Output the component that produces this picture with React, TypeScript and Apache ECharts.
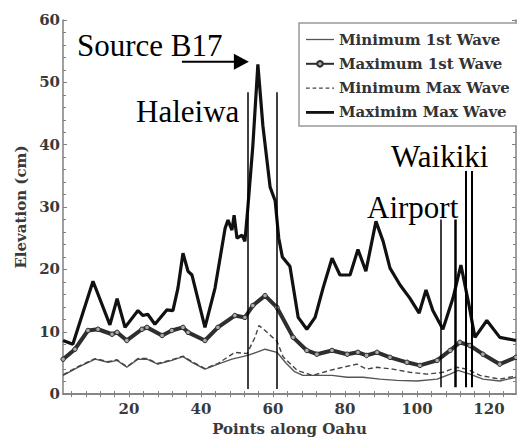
import React, { useEffect, useRef } from 'react';
import * as echarts from 'echarts';

const min1X = [1.7, 5.8, 10.6, 14.2, 16.7, 19.4, 22.5, 25, 28, 31.9, 35, 37.5, 41.1, 44.7, 48.6, 53, 57.8, 61.1, 63.6, 66, 68.3, 73, 76.4, 80.6, 85, 89.7, 94.4, 100, 105.6, 109.2, 111.4, 114.7, 118.3, 123, 127.5];
const min1Y = [3, 4.3, 5.6, 5.1, 5.4, 4.3, 5.6, 5.6, 4.8, 5.4, 6, 5.1, 4, 4.8, 5.6, 6.2, 7.2, 6.7, 5.0, 3.6, 3, 3, 3, 2.7, 2.7, 2.4, 2.2, 2.1, 2.4, 3.2, 3.8, 3.2, 2.4, 2.1, 2.7];

const max1X = [1.7, 5, 8.6, 11.4, 15.3, 16.7, 19.4, 23.6, 25, 29.2, 31.9, 35, 36.4, 41.1, 44.7, 49.4, 52.2, 54.4, 57.8, 61.1, 65.6, 69.4, 72.2, 76.4, 80.6, 83.6, 86, 88.9, 92.5, 97.2, 100.8, 105.6, 109.2, 111.9, 114.7, 118.3, 123, 127.5];
const max1Y = [5.6, 7.2, 10.2, 10.4, 9.6, 9.9, 8.6, 10.4, 10.7, 9.4, 10.2, 10.7, 9.9, 8.6, 10.7, 12.6, 12.3, 14.2, 15.8, 13.9, 9.1, 7, 6.4, 7, 6.4, 6.7, 6.2, 6.7, 5.9, 5.1, 4.6, 5.4, 7, 8.3, 7.8, 6.4, 4.8, 5.9];

const minMaxX = [1.7, 5.8, 10.6, 14.2, 16.7, 19.4, 22.5, 25, 28, 31.9, 35, 37.5, 41.1, 44.7, 49.4, 52.8, 55, 56.1, 57.8, 59.5, 61.1, 62.8, 66.7, 71, 75.8, 79.4, 83.3, 86, 88.9, 93.3, 98, 102.8, 107.2, 111, 113.9, 117.5, 123, 127.5];
const minMaxY = [3.1, 4.4, 5.7, 5.2, 5.5, 4.4, 5.7, 5.7, 4.9, 5.5, 6.1, 5.2, 4.1, 4.9, 6.7, 6.5, 9.1, 11, 10.2, 9.3, 8.5, 6.0, 3.8, 3, 3.8, 4.3, 4.8, 4, 4.3, 4, 3.5, 3.2, 3.5, 4.3, 4, 3, 2.4, 2.9];

const maxMaxX = [1.7, 4.4, 10, 14.7, 16.7, 18.9, 22.5, 23.9, 25.2, 27.2, 30.5, 32.2, 33.6, 35, 36.4, 37.5, 41.1, 43.9, 46.7, 47.5, 48.6, 49.2, 50, 51.4, 52.2, 53, 54.4, 55.8, 57.2, 59.2, 60.6, 61.6, 62.6, 64.7, 67, 69.4, 71.7, 73.9, 76.4, 78.6, 81.4, 83.6, 85.8, 88.6, 90.6, 92.5, 95.3, 98, 100.6, 102.5, 104.4, 107.2, 110, 112.2, 114.2, 116.1, 119.4, 123, 127.5];
const maxMaxY = [8.6, 8.0, 18.1, 11.1, 15.3, 10.7, 13.4, 12.6, 12.8, 11.2, 13.5, 13.4, 17, 22.6, 19.7, 19.1, 10.7, 17, 26.6, 27.9, 26.3, 28.7, 25, 25.5, 24.5, 29.8, 39.8, 52.9, 43, 33.2, 31, 25, 22, 20.5, 12.3, 10.4, 12.3, 17, 21.8, 19.1, 19.1, 23.2, 19.7, 27.7, 24.5, 20.2, 17.5, 15.4, 13, 16.7, 13.4, 10.4, 15.4, 20.7, 15, 9.1, 11.8, 9.1, 8.6];

const seriesNames = ['Minimum 1st Wave', 'Maximum 1st Wave', 'Minimum Max Wave', 'Maximim Max Wave'];
const xLabelValues = [20, 40, 60, 80, 100, 120];
const xTickValues = [4, 8, 12, 16, 20, 24, 28, 32, 36, 40, 44, 48, 52, 56, 60, 64, 68, 72, 76, 80, 84, 88, 92, 96, 100, 104, 108, 112, 116, 120, 124];

// site marker lines: x position, bottom, top (cm), stroke width
const siteX = [53, 61, 106.7, 110.6, 113.6, 115.3];
const siteBottom = [0.8, 0.8, 1.1, 1.1, 1.1, 1.1];
const siteTop = [48.4, 48.4, 28, 28, 35.8, 35.8];
const siteWidth = [1.5, 1.5, 1.5, 2.5, 2, 2];

// arrow pointing to source peak (data coords)
const arrowStart = [34.7, 53.3];
const arrowTip = [53.3, 53.3];

const zip = (xs: number[], ys: number[]) => xs.map((x, i) => [x, ys[i]]);

const AXIS_FONT = 'DejaVu Serif';
const ANNO_FONT = 'Liberation Serif';

const solidIcon = (h: number) => `path://M0,0H30V${h}H0Z`;
const dashedIcon = 'path://M0,0h4v1.4h-4z M7,0h4v1.4h-4z M14,0h4v1.4h-4z M21,0h4v1.4h-4z M28,0h2v1.4h-2z';

export default function App() {
  const ref = useRef<HTMLDivElement>(null);
  useEffect(() => {
    if (!ref.current) return;
    const chart = echarts.init(ref.current, null, { renderer: 'svg' });
    const axisTextStyle = { fontFamily: AXIS_FONT, fontWeight: 'bold' as const, fontSize: 15, color: '#3a3a3a' };
    const frameLine = { show: true, lineStyle: { color: '#808080', width: 1.5 } };
    const xMin = 1.67;
    const xMax = 127.5;
    const option: any = {
      animation: false,
      backgroundColor: '#fff',
      grid: { left: 63, top: 20, right: 1, bottom: 44, containLabel: false },
      legend: {
        orient: 'vertical',
        left: 299,
        top: 23,
        data: [
          { name: seriesNames[0], icon: solidIcon(1.4), itemStyle: { color: '#555', borderWidth: 0 } },
          { name: seriesNames[1] },
          { name: seriesNames[2], icon: dashedIcon, itemStyle: { color: '#444', borderWidth: 0 } },
          { name: seriesNames[3], icon: solidIcon(3), itemStyle: { color: '#111', borderWidth: 0 } },
        ],
        itemWidth: 28,
        itemHeight: 7,
        itemGap: 9.3,
        padding: [9, 18, 6, 6],
        borderColor: '#999',
        borderWidth: 1.5,
        backgroundColor: '#fff',
        textStyle: { fontFamily: AXIS_FONT, fontWeight: 'bold', fontSize: 15, color: '#333' },
      },
      xAxis: [
        {
          type: 'value',
          min: xMin,
          max: xMax,
          name: 'Points along Oahu',
          nameLocation: 'middle',
          nameGap: 26,
          nameTextStyle: axisTextStyle,
          axisLine: frameLine,
          axisTick: { show: true, inside: true, length: 3, customValues: xTickValues, lineStyle: { color: '#808080' } },
          axisLabel: { ...axisTextStyle, customValues: xLabelValues, margin: 7 },
          splitLine: { show: false },
        },
        {
          type: 'value',
          position: 'top',
          min: xMin,
          max: xMax,
          axisLine: frameLine,
          axisTick: { show: true, inside: true, length: 3, customValues: xTickValues, lineStyle: { color: '#808080' } },
          axisLabel: { show: false },
          splitLine: { show: false },
        },
      ],
      yAxis: [
        {
          type: 'value',
          min: 0,
          max: 60,
          interval: 10,
          name: 'Elevation (cm)',
          nameLocation: 'middle',
          nameGap: 25,
          nameTextStyle: axisTextStyle,
          axisLine: frameLine,
          axisTick: { show: true, inside: true, length: 4, lineStyle: { color: '#808080' } },
          minorTick: { show: true, splitNumber: 5, length: 3, lineStyle: { color: '#808080' } },
          axisLabel: { ...axisTextStyle, margin: 3 },
          splitLine: { show: false },
        },
        {
          type: 'value',
          position: 'right',
          min: 0,
          max: 60,
          interval: 10,
          axisLine: frameLine,
          axisTick: { show: true, inside: true, length: 4, lineStyle: { color: '#808080' } },
          minorTick: { show: true, splitNumber: 5, length: 3, lineStyle: { color: '#808080' } },
          axisLabel: { show: false },
          splitLine: { show: false },
        },
      ],
      series: [
        {
          name: seriesNames[0],
          type: 'line',
          data: zip(min1X, min1Y),
          showSymbol: false,
          symbol: 'none',
          lineStyle: { color: '#555', width: 1.4 },
          itemStyle: { color: '#555' },
          markLine: {
            silent: true,
            symbol: ['none', 'none'],
            label: { show: false },
            emphasis: { disabled: true },
            data: siteX.map((x, i) => [
              { coord: [x, siteBottom[i]], lineStyle: { color: '#000', width: siteWidth[i], type: 'solid' } },
              { coord: [x, siteTop[i]] },
            ]),
          },
        },
        {
          name: seriesNames[1],
          type: 'line',
          data: zip(max1X, max1Y),
          symbol: 'circle',
          symbolSize: 4.5,
          showSymbol: true,
          lineStyle: { color: '#2e2e2e', width: 4 },
          itemStyle: { color: '#aaa', borderColor: '#2e2e2e', borderWidth: 1 },
        },
        {
          name: seriesNames[2],
          type: 'line',
          data: zip(minMaxX, minMaxY),
          showSymbol: false,
          symbol: 'none',
          lineStyle: { color: '#444', width: 1.4, type: [5, 3] },
          itemStyle: { color: '#444' },
        },
        {
          name: seriesNames[3],
          type: 'line',
          data: zip(maxMaxX, maxMaxY),
          showSymbol: false,
          symbol: 'none',
          lineStyle: { color: '#111', width: 3.2 },
          itemStyle: { color: '#111' },
        },
      ],
      graphic: [
        { type: 'text', x: 77, y: 45, style: { text: 'Source B17', fontFamily: ANNO_FONT, fontSize: 31, fill: '#000', align: 'left', verticalAlign: 'middle' } },
        { type: 'text', x: 136, y: 111, style: { text: 'Haleiwa', fontFamily: ANNO_FONT, fontSize: 31, fill: '#000', align: 'left', verticalAlign: 'middle' } },
        { type: 'text', x: 391, y: 156, style: { text: 'Waikiki', fontFamily: ANNO_FONT, fontSize: 31, fill: '#000', align: 'left', verticalAlign: 'middle' } },
        { type: 'text', x: 367, y: 207, style: { text: 'Airport', fontFamily: ANNO_FONT, fontSize: 31, fill: '#000', align: 'left', verticalAlign: 'middle' } },
      ],
    };
    chart.setOption(option);

    // arrow placed through the chart's own scales
    const p0 = chart.convertToPixel({ gridIndex: 0 }, arrowStart) as number[];
    const p1 = chart.convertToPixel({ gridIndex: 0 }, arrowTip) as number[];
    const headLen = 15;
    const headHalf = 8;
    chart.setOption({
      graphic: [
        ...option.graphic,
        { type: 'line', shape: { x1: p0[0], y1: p0[1], x2: p1[0] - headLen + 1, y2: p1[1] }, style: { stroke: '#000', lineWidth: 2 } },
        {
          type: 'polygon',
          shape: { points: [[p1[0], p1[1]], [p1[0] - headLen, p1[1] - headHalf], [p1[0] - headLen, p1[1] + headHalf]] },
          style: { fill: '#000' },
        },
      ],
    });
    return () => chart.dispose();
  }, []);
  return <div ref={ref} style={{ position: 'absolute', left: 0, top: 0, width: 517, height: 441 }} />;
}
